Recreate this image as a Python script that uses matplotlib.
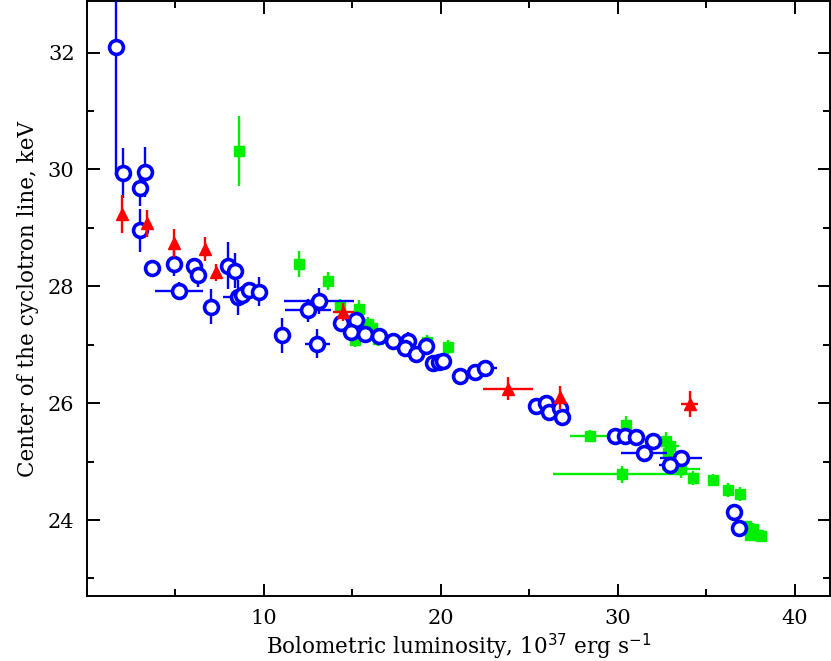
import matplotlib
matplotlib.use('Agg')
import matplotlib.pyplot as plt
from matplotlib.ticker import MultipleLocator

# blue open circles
blue_x = [1.64, 2.05, 3.30, 2.99, 2.99, 3.67, 4.93, 5.20, 6.03, 6.29, 7.00, 7.95, 8.36, 8.51, 8.77,
          9.17, 9.73, 11.03, 12.50, 13.11, 13.03, 14.35, 15.23, 14.93, 15.71, 16.50, 17.31, 18.15,
          17.95, 18.58, 19.15, 19.55, 19.90, 20.13, 21.07, 21.92, 22.49, 25.40, 25.93, 26.12,
          26.76, 26.87, 29.83, 30.40, 31.05, 31.99, 31.47, 33.56, 32.98, 36.55, 36.87]
blue_y = [32.10, 29.94, 29.95, 29.68, 28.96, 28.31, 28.39, 27.92, 28.34, 28.19, 27.65, 28.35, 28.27,
          27.81, 27.85, 27.93, 27.91, 27.16, 27.59, 27.75, 27.02, 27.37, 27.43, 27.22, 27.18, 27.15,
          27.07, 27.06, 26.94, 26.84, 26.98, 26.68, 26.70, 26.72, 26.46, 26.53, 26.61, 25.95, 26.00,
          25.85, 25.92, 25.76, 25.44, 25.44, 25.42, 25.36, 25.15, 25.06, 24.94, 24.14, 23.86]
blue_xerr = [0, 0, 0, 0, 0, 0, 0, 1.33, 0, 0, 0, 0, 0, 0.8, 0, 0, 0, 0, 1.3, 1.98, 0.7, 0, 0, 0, 0,
             0, 0, 0, 0, 0, 0, 0, 0, 0, 0, 0, 0.7, 0, 0, 0, 0, 0, 0, 0, 0, 0, 1.3, 1.18, 0.66, 0, 0]
blue_yerr = [2.2, 0.43, 0.43, 0.30, 0.37, 0.10, 0.22, 0.15, 0.15, 0.20, 0.30, 0.40, 0.30, 0.30, 0.15,
             0.15, 0.25, 0.30, 0.20, 0.22, 0.25, 0.12, 0.12, 0.12, 0.12, 0.12, 0.12, 0.15, 0.12, 0.12,
             0.12, 0.12, 0.12, 0.12, 0.12, 0.10, 0.10, 0.12, 0.12, 0.12, 0.12, 0.12, 0.12, 0.12, 0.12,
             0.12, 0.12, 0.12, 0.12, 0.10, 0.10]

# red triangles
red_x = [1.98, 3.39, 4.90, 6.69, 7.29, 14.48, 23.80, 26.72, 34.07]
red_y = [29.24, 29.08, 28.74, 28.64, 28.24, 27.56, 26.25, 26.10, 25.98]
red_xerr = [0, 0, 0, 0, 0, 0.6, 1.41, 0, 0.5]
red_yerr = [0.33, 0.23, 0.24, 0.20, 0.15, 0.15, 0.20, 0.20, 0.22]

# green squares
green_x = [8.59, 11.98, 13.63, 14.29, 15.35, 15.89, 16.10, 15.14, 16.46, 19.20, 20.40, 28.42, 30.45,
           30.26, 32.75, 32.95, 32.84, 33.59, 34.25, 35.38, 36.25, 36.89, 37.23, 37.64, 37.46,
           37.93, 38.10]
green_y = [30.31, 28.38, 28.09, 27.64, 27.62, 27.36, 27.28, 27.08, 27.09, 27.05, 26.96, 25.44, 25.63,
           24.78, 25.35, 25.27, 25.14, 24.87, 24.72, 24.68, 24.52, 24.44, 23.89, 23.85, 23.74,
           23.75, 23.73]
green_xerr = [0, 0, 0, 0, 0, 0, 0, 0, 0, 0, 0, 1.13, 0, 3.94, 0, 0.5, 0, 1.08, 0, 0, 0, 0, 0, 0, 0,
              0, 0]
green_yerr = [0.6, 0.22, 0.15, 0.15, 0.15, 0.12, 0.12, 0.12, 0.12, 0.12, 0.12, 0.10, 0.15, 0.15, 0.15,
              0.12, 0.15, 0.15, 0.12, 0.10, 0.12, 0.12, 0.10, 0.10, 0.10, 0.10, 0.10]

x_ticks = [10, 20, 30, 40]

plt.rcParams['font.family'] = ['DejaVu Serif']

fig = plt.figure(figsize=(8.31, 6.61), dpi=100)
ax = fig.add_axes([0.1047, 0.0983, 0.894, 0.900])

ax.errorbar(blue_x, blue_y, xerr=blue_xerr, yerr=blue_yerr, fmt='o', color='#0000ff',
            mfc='white', mec='#0000ff', ms=10, mew=2.6, elinewidth=1.7, capsize=0, zorder=3)
ax.errorbar(green_x, green_y, xerr=green_xerr, yerr=green_yerr, fmt='s', color='#00ee00',
            mfc='#00ee00', mec='#00ee00', ms=7.5, elinewidth=1.7, capsize=0, zorder=2)
ax.errorbar(red_x, red_y, xerr=red_xerr, yerr=red_yerr, fmt='^', color='#ff0000',
            mfc='#ff0000', mec='#ff0000', ms=8.5, elinewidth=1.7, capsize=0, zorder=4)

ax.set_xlim(0, 42)
ax.set_ylim(22.7, 32.88)
ax.set_xticks(x_ticks)
ax.xaxis.set_minor_locator(MultipleLocator(5))
ax.yaxis.set_major_locator(MultipleLocator(2))
ax.yaxis.set_minor_locator(MultipleLocator(1))
ax.tick_params(which='both', direction='in', top=True, right=True, width=1.4, labelsize=15)
ax.tick_params(which='major', length=9, pad=9)
ax.tick_params(which='minor', length=5)
for s in ax.spines.values():
    s.set_linewidth(1.4)

ax.set_xlabel('Bolometric luminosity, 10$^{37}$ erg s$^{-1}$', fontsize=15.5, labelpad=3)
ax.set_ylabel('Center of the cyclotron line, keV', fontsize=15.5, labelpad=6)

fig.savefig('out.png', dpi=100)
